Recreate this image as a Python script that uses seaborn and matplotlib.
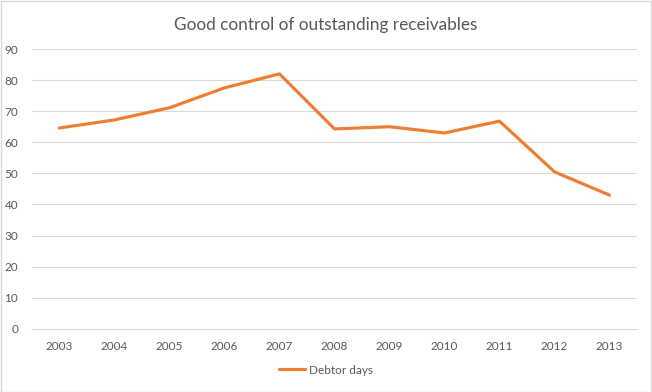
import matplotlib
matplotlib.use('Agg')
import matplotlib.pyplot as plt
import seaborn as sns
import pandas as pd
from matplotlib.patches import Rectangle

# Chart data
years = [2003, 2004, 2005, 2006, 2007, 2008, 2009, 2010, 2011, 2012, 2013]
debtor_days = [64.6, 67.2, 71.1, 77.5, 82.0, 64.3, 65.0, 63.0, 66.8, 50.5, 43.0]
y_ticks = [0, 10, 20, 30, 40, 50, 60, 70, 80, 90]

TEXT = '#595959'
GRID = '#d9d9d9'
ORANGE = '#ED7D31'

sns.set_theme(style='white')
plt.rcParams['font.family'] = ['Lato', 'DejaVu Sans']

df = pd.DataFrame({'year': years, 'Debtor days': debtor_days})

fig = plt.figure(figsize=(6.52, 3.92), dpi=100, facecolor='white')
ax = fig.add_axes([0.049, 0.161, 0.928, 0.714])

sns.lineplot(data=df, x='year', y='Debtor days', color=ORANGE, linewidth=2.25,
             ax=ax, label='Debtor days')

ax.set_xlim(years[0] - 0.5, years[-1] + 0.5)
ax.set_ylim(0, 90)
ax.set_yticks(y_ticks)
ax.set_xticks(years)
ax.set_xticklabels([str(y) for y in years])
ax.grid(axis='y', color=GRID, linewidth=0.75)
ax.set_axisbelow(True)
for side in ['top', 'right', 'left']:
    ax.spines[side].set_visible(False)
ax.spines['bottom'].set_color(GRID)
ax.spines['bottom'].set_linewidth(0.75)
ax.tick_params(axis='both', length=0, colors=TEXT, labelsize=8.5)
ax.tick_params(axis='x', pad=9)
ax.tick_params(axis='y', pad=10)
ax.set_xlabel('')
ax.set_ylabel('')

fig.text(0.5, 0.937, 'Good control of outstanding receivables', ha='center', va='center',
         color=TEXT, fontsize=12.4)

ax.get_legend().remove()
handles, labels = ax.get_legend_handles_labels()
fig.legend(handles, labels, loc='center', bbox_to_anchor=(0.5, 0.056), frameon=False,
           fontsize=8.5, labelcolor=TEXT, handlelength=2.2, handletextpad=0.3)

# light chart-area border
fig.patches.append(Rectangle((0.001, 0.001), 0.997, 0.996, transform=fig.transFigure,
                             fill=False, edgecolor=GRID, linewidth=1.0))

fig.savefig('out.png', dpi=100, facecolor='white')
plt.close(fig)
